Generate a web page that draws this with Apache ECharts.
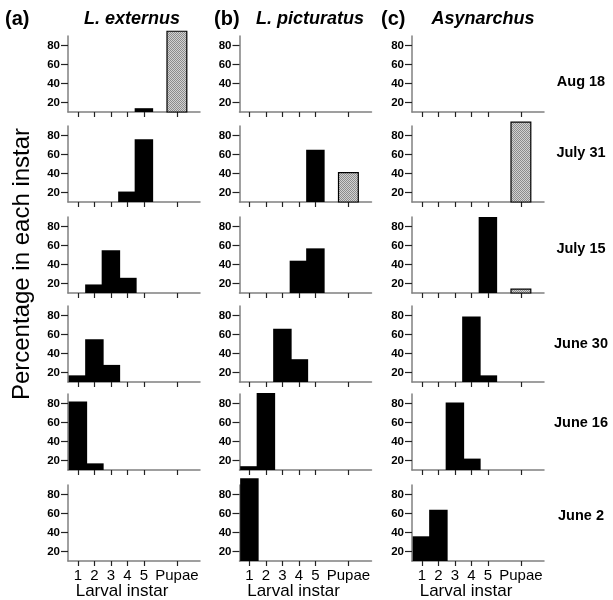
<!DOCTYPE html>
<html>
<head>
<meta charset="utf-8">
<script src="https://cdn.jsdelivr.net/npm/echarts@6/dist/echarts.min.js"></script>
<style>
    html, body { margin: 0; padding: 0; background: #fff; }
    #mainEchart { width: 613px; height: 600px; }
</style>
</head>
<body>
<div id="mainEchart"></div>
<script>
// x positions of the instars, last one is the pupae
var instarX = [1, 2, 3, 4, 5, 7];
var instarNames = ['1', '2', '3', '4', '5', 'Pupae'];
var dates = ['Aug 18', 'July 31', 'July 15', 'June 30', 'June 16', 'June 2'];
var species = ['L. externus', 'L. picturatus', 'Asynarchus'];
var panelTags = ['(a)', '(b)', '(c)'];
var yTicks = [20, 40, 60, 80];

// percentage in each instar, rows = dates (top to bottom)
var externusPct = [
    [0, 0, 0, 0, 14, 95],
    [0, 0, 0, 21, 76, 0],
    [0, 19, 55, 26, 0, 0],
    [17, 55, 28, 0, 0, 0],
    [82, 17, 0, 0, 0, 0],
    [0, 0, 0, 0, 0, 0]
];
var picturatusPct = [
    [0, 0, 0, 0, 0, 0],
    [0, 0, 0, 0, 65, 41],
    [0, 0, 0, 44, 57, 0],
    [0, 0, 66, 34, 0, 0],
    [14, 91, 0, 0, 0, 0],
    [97, 0, 0, 0, 0, 0]
];
var asynarchusPct = [
    [0, 0, 0, 0, 0, 0],
    [0, 0, 0, 0, 0, 94],
    [0, 0, 0, 0, 90, 14],
    [0, 0, 0, 79, 17, 0],
    [0, 0, 81, 22, 0, 0],
    [36, 64, 0, 0, 0, 0]
];
var allPct = [externusPct, picturatusPct, asynarchusPct];

var FONT = '"Liberation Sans", Arial, sans-serif';
var colLeft = [68, 239.5, 412];
var rowBase = [112, 202, 293, 382, 470, 561];
var plotW = 132, plotH = 76;
var Y_MIN = 10;

// halftone fill for the pupae bars (fine checker, reads as mid grey)
var patCanvas = document.createElement('canvas');
patCanvas.width = 2; patCanvas.height = 2;
var pctx = patCanvas.getContext('2d');
pctx.fillStyle = '#d2d2d2'; pctx.fillRect(0, 0, 2, 2);
pctx.fillStyle = '#8c8c8c'; pctx.fillRect(0, 0, 1, 1); pctx.fillRect(1, 1, 1, 1);
var pupaeFill = { image: patCanvas, repeat: 'repeat' };

function renderBar(params, api) {
    var x = api.value(0), v = api.value(1), pupa = api.value(2);
    if (!(v > Y_MIN)) return;
    var hw = pupa ? 0.6 : 0.56;
    var p0 = api.coord([x - hw, v]);
    var p1 = api.coord([x + hw, Y_MIN]);
    return {
        type: 'rect',
        shape: { x: p0[0], y: p0[1], width: p1[0] - p0[0], height: p1[1] - p0[1] },
        style: pupa ? { fill: pupaeFill, stroke: '#000', lineWidth: 1.2 } : { fill: '#000' }
    };
}

var grids = [], xAxes = [], yAxes = [], series = [], graphics = [];
for (var c = 0; c < 3; c++) {
    for (var r = 0; r < 6; r++) {
        var idx = grids.length;
        var bottom = (r == 5);
        grids.push({ left: colLeft[c], top: rowBase[r] - plotH, width: plotW, height: plotH });
        xAxes.push({
            gridIndex: idx, type: 'value', min: 0.4, max: 8.4,
            splitLine: { show: false },
            axisLine: { show: true, onZero: false, lineStyle: { color: '#808080', width: 1.5 } },
            axisTick: { show: true, customValues: instarX, length: 5, lineStyle: { color: '#222', width: 1.2 } },
            axisLabel: {
                show: bottom, customValues: instarX, margin: 7,
                color: '#000', fontSize: 15, fontFamily: FONT,
                formatter: function (v) { return instarNames[instarX.indexOf(v)]; }
            }
        });
        yAxes.push({
            gridIndex: idx, type: 'value', min: Y_MIN, max: 90,
            splitLine: { show: false },
            axisLine: { show: true, onZero: false, lineStyle: { color: '#808080', width: 1.5 } },
            axisTick: { show: true, customValues: yTicks, length: 7, lineStyle: { color: '#222', width: 1.2 } },
            axisLabel: { customValues: yTicks, margin: 8, color: '#000', fontSize: 11.5, fontWeight: 'bold', fontFamily: FONT }
        });
        var d = [];
        for (var k = 0; k < instarX.length; k++) {
            d.push([instarX[k], allPct[c][r][k], k == 5 ? 1 : 0]);
        }
        series.push({
            type: 'custom', xAxisIndex: idx, yAxisIndex: idx,
            renderItem: renderBar, data: d, silent: true, clip: false
        });
    }
    // column header
    graphics.push({
        type: 'text', left: [5, 214, 381][c], top: 9,
        style: { text: panelTags[c], fontSize: 20, fontWeight: 'bold', fontFamily: FONT, fill: '#000' }
    });
    graphics.push({
        type: 'text', x: [132, 310, 483][c], y: 19,
        style: { text: species[c], fontSize: 18, fontWeight: 'bold', fontStyle: 'italic', fontFamily: FONT,
                 fill: '#000', align: 'center', verticalAlign: 'middle' }
    });
    graphics.push({
        type: 'text', x: colLeft[c] + 54, y: 591,
        style: { text: 'Larval instar', fontSize: 17, fontFamily: FONT, fill: '#000', align: 'center', verticalAlign: 'middle' }
    });
}

var rowLabelY = [82, 153, 249, 344, 423, 516];
for (var r = 0; r < dates.length; r++) {
    graphics.push({
        type: 'text', x: 581, y: rowLabelY[r],
        style: { text: dates[r], fontSize: 14.5, fontWeight: 'bold', fontFamily: FONT, fill: '#000', align: 'center', verticalAlign: 'middle' }
    });
}
graphics.push({
    type: 'text', x: 22, y: 264, rotation: Math.PI / 2,
    style: { text: 'Percentage in each instar', fontSize: 24, fontFamily: FONT, fill: '#000', align: 'center', verticalAlign: 'middle' }
});

var myChart = echarts.init(document.getElementById('mainEchart'));
var option = {
    backgroundColor: '#fff',
    animation: false,
    grid: grids,
    xAxis: xAxes,
    yAxis: yAxes,
    series: series,
    graphic: graphics
};
myChart.setOption(option);
</script>
</body>
</html>
